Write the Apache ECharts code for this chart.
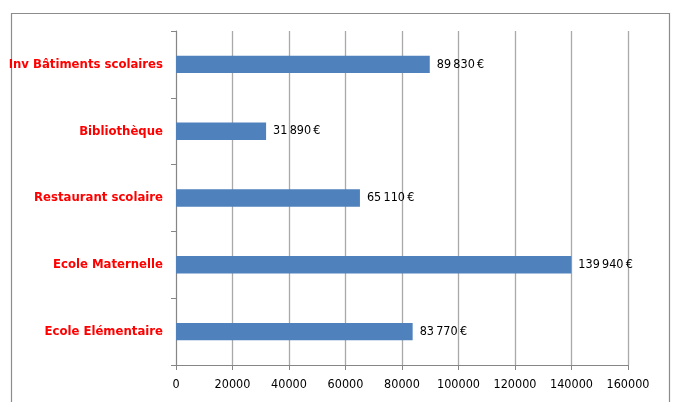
<!DOCTYPE html>
<html><head><meta charset="utf-8">
<script src="https://cdn.jsdelivr.net/npm/echarts@6/dist/echarts.min.js"></script>
<style>html,body{margin:0;padding:0;background:#fff}#c{width:673px;height:402px}</style>
</head><body><div id="c"></div>
<script>
const categories = ['Ecole Elémentaire','Ecole Maternelle','Restaurant scolaire','Bibliothèque','Inv Bâtiments scolaires'];
const values = [83770, 139940, 65110, 31890, 89830];
const xTicks = [0,20000,40000,60000,80000,100000,120000,140000,160000];
const FONT = '"DejaVu Sans Condensed","Liberation Sans Narrow",sans-serif';
function fmt(v){ return String(v).replace(/\B(?=(\d{3})+(?!\d))/g,'\u2009') + '\u2009€'; }
const chart = echarts.init(document.getElementById('c'), null, {renderer:'canvas'});
chart.setOption({
  animation:false,
  grid:{left:176,right:45,top:31,bottom:37,containLabel:false,outerBoundsMode:'none'},
  graphic:[{type:'rect',shape:{x:11.5,y:13.5,width:658,height:400},style:{fill:'none',stroke:'#8c8c8c',lineWidth:1.2},z:-1}],
  xAxis:{type:'value',min:xTicks[0],max:xTicks[xTicks.length-1],interval:20000,
    axisLine:{show:true,lineStyle:{color:'#868686'}},
    axisTick:{show:true,length:5,lineStyle:{color:'#868686'}},
    splitLine:{show:true,lineStyle:{color:'#a9a9a9',width:1.3}},
    axisLabel:{color:'#000',fontFamily:FONT,fontSize:12.5,margin:13,formatter:v=>String(v)}},
  yAxis:{type:'category',data:categories,
    axisLine:{show:true,lineStyle:{color:'#868686'}},
    axisTick:{show:true,length:5,lineStyle:{color:'#868686'}},
    axisLabel:{color:'#ff0000',fontFamily:FONT,fontSize:13,fontWeight:'bold',margin:13}},
  series:[{type:'bar',data:values,barWidth:'26%',itemStyle:{color:'#4f81bd'},
    label:{show:true,position:'right',distance:7,color:'#000',fontFamily:FONT,fontSize:12.5,formatter:p=>fmt(p.value)}}]
});
</script></body></html>
